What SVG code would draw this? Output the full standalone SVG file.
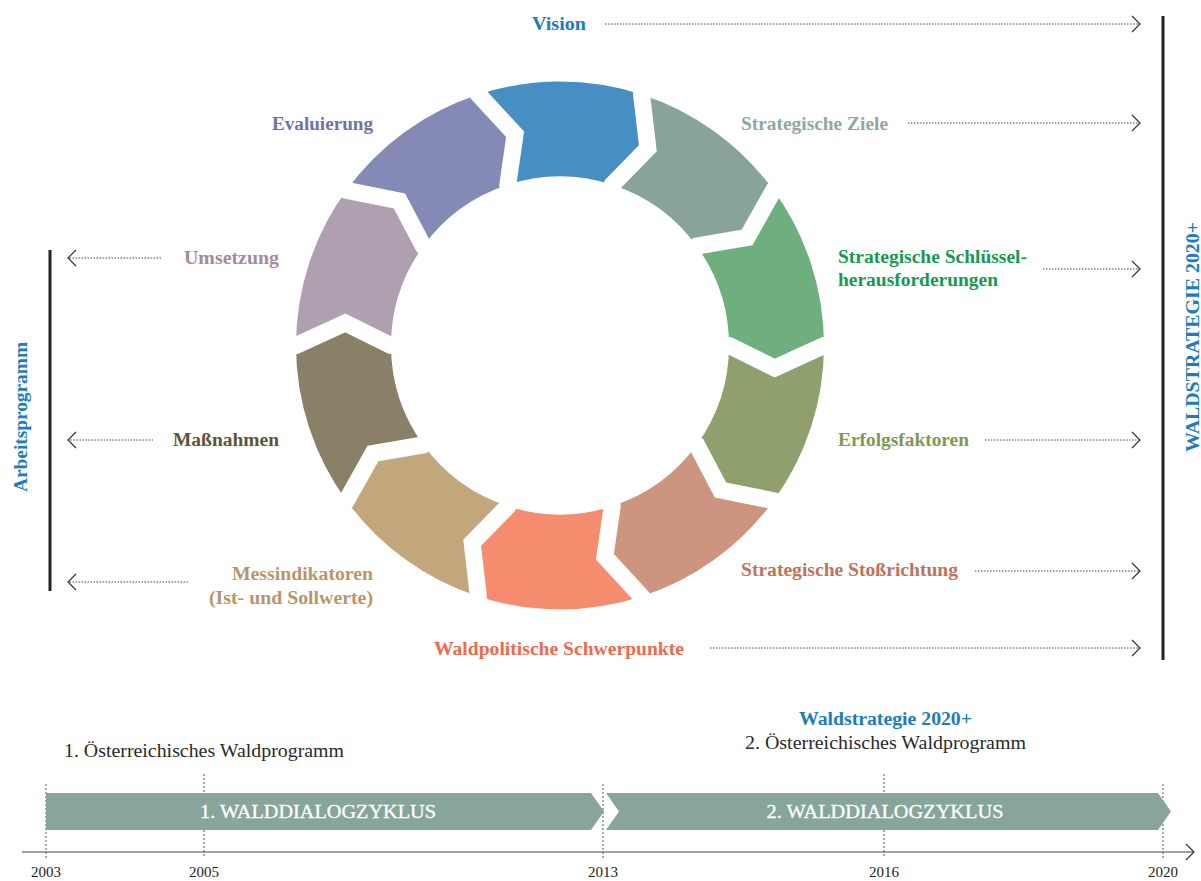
<svg xmlns="http://www.w3.org/2000/svg" width="1201" height="881" viewBox="0 0 1201 881">
<style>
.lbl{font-family:"Liberation Serif","DejaVu Serif",serif;font-weight:bold;font-size:18px}
.reg{font-family:"Liberation Serif","DejaVu Serif",serif;font-size:19px;fill:#2a2a2a}
.yr{font-family:"Liberation Serif","DejaVu Serif",serif;font-size:15px;fill:#222;text-anchor:middle}
.band{fill:#88a59b}
.bandtxt{font-family:"Liberation Serif","DejaVu Serif",serif;font-size:19px;fill:#fff;text-anchor:middle;stroke:#fff;stroke-width:0.3}
.dot{stroke:#444;stroke-width:1;stroke-dasharray:1.5 1.5;fill:none}
.tick{stroke:#555;stroke-width:1;stroke-dasharray:2 2;fill:none}
.bar{stroke:#222;stroke-width:3}
.gap{stroke:#fff;stroke-width:17;fill:none;stroke-linejoin:miter;stroke-miterlimit:10}
</style>
<defs>
<marker id="ah" markerUnits="userSpaceOnUse" viewBox="0 0 10 18" refX="9" refY="9" markerWidth="10" markerHeight="18" orient="auto">
<path d="M1,1 L9,9 L1,17" fill="none" stroke="#333" stroke-width="1.2"/>
</marker>
</defs>

<g id="ring">
<path id="seg-vision" fill="#478fc3" d="M478.42,94.42 A264,264 0 0 1 641.58,94.42 L647.86,148.17 L612.22,184.77 A169,169 0 0 0 507.78,184.77 L515.09,134.22 Z"/>
<path id="seg-ziele" fill="#88a39a" d="M641.58,94.42 A264,264 0 0 1 773.58,190.32 L747.06,237.5 L696.72,246.16 A169,169 0 0 0 612.22,184.77 L647.86,148.17 Z"/>
<path id="seg-schluessel" fill="#6fae7d" d="M773.58,190.32 A264,264 0 0 1 824,345.5 L774.82,368.08 L729,345.5 A169,169 0 0 0 696.72,246.16 L747.06,237.5 Z"/>
<path id="seg-erfolg" fill="#8fa06e" d="M824,345.5 A264,264 0 0 1 773.58,500.68 L720.52,490.03 L696.72,444.84 A169,169 0 0 0 729,345.5 L774.82,368.08 Z"/>
<path id="seg-stoss" fill="#cd9580" d="M773.58,500.68 A264,264 0 0 1 641.58,596.58 L604.91,556.78 L612.22,506.23 A169,169 0 0 0 696.72,444.84 L720.52,490.03 Z"/>
<path id="seg-schwer" fill="#f58c6e" d="M641.58,596.58 A264,264 0 0 1 478.42,596.58 L472.14,542.83 L507.78,506.23 A169,169 0 0 0 612.22,506.23 L604.91,556.78 Z"/>
<path id="seg-mess" fill="#c2a67c" d="M478.42,596.58 A264,264 0 0 1 346.42,500.68 L372.94,453.5 L423.28,444.84 A169,169 0 0 0 507.78,506.23 L472.14,542.83 Z"/>
<path id="seg-mass" fill="#8a8068" d="M346.42,500.68 A264,264 0 0 1 296,345.5 L345.18,322.92 L391,345.5 A169,169 0 0 0 423.28,444.84 L372.94,453.5 Z"/>
<path id="seg-umsetz" fill="#b09fb0" d="M296,345.5 A264,264 0 0 1 346.42,190.32 L399.48,200.97 L423.28,246.16 A169,169 0 0 0 391,345.5 L345.18,322.92 Z"/>
<path id="seg-eval" fill="#8489b5" d="M346.42,190.32 A264,264 0 0 1 478.42,94.42 L515.09,134.22 L507.78,184.77 A169,169 0 0 0 423.28,246.16 L399.48,200.97 Z"/>
<g class="gap">
<polyline points="644.98,83.96 641.58,94.42 647.86,148.17 612.22,184.77 608.82,195.24"/>
<polyline points="782.05,184.16 773.58,190.32 747.06,237.5 696.72,246.16 688.25,252.32"/>
<polyline points="835,345.5 824,345.5 774.82,368.08 729,345.5 718,345.5"/>
<polyline points="782.05,506.84 773.58,500.68 720.52,490.03 696.72,444.84 688.25,438.68"/>
<polyline points="644.98,607.04 641.58,596.58 604.91,556.78 612.22,506.23 608.82,495.76"/>
<polyline points="475.02,607.04 478.42,596.58 472.14,542.83 507.78,506.23 511.18,495.76"/>
<polyline points="337.95,506.84 346.42,500.68 372.94,453.5 423.28,444.84 431.75,438.68"/>
<polyline points="285,345.5 296,345.5 345.18,322.92 391,345.5 402,345.5"/>
<polyline points="337.95,184.16 346.42,190.32 399.48,200.97 423.28,246.16 431.75,252.32"/>
<polyline points="475.02,83.96 478.42,94.42 515.09,134.22 507.78,184.77 511.18,195.24"/>
</g>
</g>

<g id="labels">
<g id="n-vision"><text class="lbl" x="532" y="30" textLength="54" lengthAdjust="spacingAndGlyphs" fill="#1c7cbf">Vision</text></g>
<g id="n-ziele"><text class="lbl" x="741" y="130" textLength="147" lengthAdjust="spacingAndGlyphs" fill="#8fa89f">Strategische Ziele</text></g>
<g id="n-schluessel"><text class="lbl" x="838" y="263" textLength="189" lengthAdjust="spacingAndGlyphs" fill="#17994f">Strategische Schlüssel-</text><text class="lbl" x="838" y="286" textLength="160" lengthAdjust="spacingAndGlyphs" fill="#17994f">herausforderungen</text></g>
<g id="n-erfolg"><text class="lbl" x="838" y="446" textLength="131" lengthAdjust="spacingAndGlyphs" fill="#7e9a50">Erfolgsfaktoren</text></g>
<g id="n-stoss"><text class="lbl" x="741" y="576" textLength="217" lengthAdjust="spacingAndGlyphs" fill="#c0735c">Strategische Stoßrichtung</text></g>
<g id="n-schwer"><text class="lbl" x="434" y="655" textLength="250" lengthAdjust="spacingAndGlyphs" fill="#f0694d">Waldpolitische Schwerpunkte</text></g>
<g id="n-mess"><text class="lbl" x="232" y="580" textLength="141" lengthAdjust="spacingAndGlyphs" fill="#b8956a">Messindikatoren</text><text class="lbl" x="209" y="604" textLength="164" lengthAdjust="spacingAndGlyphs" fill="#b8956a">(Ist- und Sollwerte)</text></g>
<g id="n-mass"><text class="lbl" x="173" y="446" textLength="106" lengthAdjust="spacingAndGlyphs" fill="#5e5538">Maßnahmen</text></g>
<g id="n-umsetz"><text class="lbl" x="184" y="264" textLength="95" lengthAdjust="spacingAndGlyphs" fill="#a38a9e">Umsetzung</text></g>
<g id="n-eval"><text class="lbl" x="272" y="130" textLength="101" lengthAdjust="spacingAndGlyphs" fill="#6e72a8">Evaluierung</text></g>
<g id="n-arbeit"><text class="lbl" transform="translate(27,492) rotate(-90)" textLength="150" lengthAdjust="spacingAndGlyphs" fill="#1c7cbf">Arbeitsprogramm</text></g>
<g id="n-waldstrat"><text class="lbl" transform="translate(1199,452) rotate(-90)" textLength="230" lengthAdjust="spacingAndGlyphs" fill="#1c7cbf">WALDSTRATEGIE 2020+</text></g>
</g>

<g id="connectors">
<line class="dot" x1="605" y1="24" x2="1140" y2="24" marker-end="url(#ah)"/>
<line class="dot" x1="908" y1="123" x2="1140" y2="123" marker-end="url(#ah)"/>
<line class="dot" x1="1043" y1="269" x2="1140" y2="269" marker-end="url(#ah)"/>
<line class="dot" x1="985" y1="440" x2="1140" y2="440" marker-end="url(#ah)"/>
<line class="dot" x1="975" y1="571" x2="1140" y2="571" marker-end="url(#ah)"/>
<line class="dot" x1="710" y1="648" x2="1140" y2="648" marker-end="url(#ah)"/>
<line class="dot" x1="161" y1="258" x2="68" y2="258" marker-end="url(#ah)"/>
<line class="dot" x1="153" y1="440" x2="68" y2="440" marker-end="url(#ah)"/>
<line class="dot" x1="188" y1="582" x2="68" y2="582" marker-end="url(#ah)"/>
<line class="bar" x1="1163" y1="16" x2="1163" y2="660"/>
<line class="bar" x1="50" y1="250" x2="50" y2="591"/>
</g>

<g id="timeline">
<text class="reg" x="64" y="757" textLength="280" lengthAdjust="spacingAndGlyphs">1. Österreichisches Waldprogramm</text>
<text class="lbl" x="799" y="725" textLength="173" lengthAdjust="spacingAndGlyphs" fill="#1c7cbf">Waldstrategie 2020+</text>
<text class="reg" x="745" y="749" textLength="281" lengthAdjust="spacingAndGlyphs">2. Österreichisches Waldprogramm</text>
<line class="tick" x1="46" y1="784" x2="46" y2="858"/>
<line class="tick" x1="204" y1="774" x2="204" y2="858"/>
<line class="tick" x1="603" y1="784" x2="603" y2="858"/>
<line class="tick" x1="884" y1="774" x2="884" y2="858"/>
<line class="tick" x1="1163" y1="784" x2="1163" y2="858"/>
<g id="band1"><polygon class="band" points="46,793 591,793 604,811.5 591,830 46,830"/><text class="bandtxt" x="318" y="818" textLength="236" lengthAdjust="spacingAndGlyphs">1. WALDDIALOGZYKLUS</text></g>
<g id="band2"><polygon class="band" points="606,793 1158,793 1171,811.5 1158,830 606,830 619,811.5"/><text class="bandtxt" x="885" y="818" textLength="237" lengthAdjust="spacingAndGlyphs">2. WALDDIALOGZYKLUS</text></g>
<line x1="22" y1="852" x2="1194" y2="852" stroke="#444" stroke-width="1.2" marker-end="url(#ah)"/>
<text class="yr" x="46" y="877">2003</text>
<text class="yr" x="204" y="877">2005</text>
<text class="yr" x="603" y="877">2013</text>
<text class="yr" x="884" y="877">2016</text>
<text class="yr" x="1163" y="877">2020</text>
</g>
</svg>
